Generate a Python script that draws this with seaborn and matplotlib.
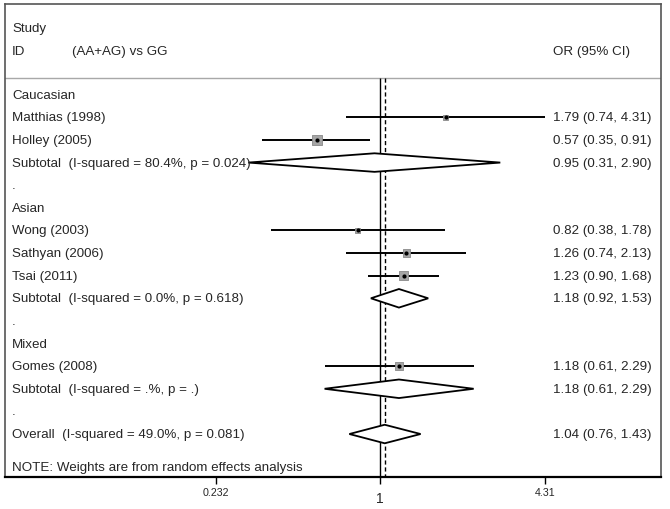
import numpy as np
import pandas as pd
import seaborn as sns
import matplotlib.pyplot as plt
from matplotlib.transforms import blended_transform_factory

# Data
groups = ["Caucasian", "Asian", "Mixed"]
studies = ["Matthias (1998)", "Holley (2005)", "Wong (2003)",
           "Sathyan (2006)", "Tsai (2011)", "Gomes (2008)"]
study_group = ["Caucasian", "Caucasian", "Asian", "Asian", "Asian", "Mixed"]
odds = [1.79, 0.57, 0.82, 1.26, 1.23, 1.18]
ci_low = [0.74, 0.35, 0.38, 0.74, 0.90, 0.61]
ci_high = [4.31, 0.91, 1.78, 2.13, 1.68, 2.29]
weights = [7.5, 26, 7.5, 16, 26, 17]   # box size reflects weight (estimated)

sub_labels = ["Subtotal  (I-squared = 80.4%, p = 0.024)",
              "Subtotal  (I-squared = 0.0%, p = 0.618)",
              "Subtotal  (I-squared = .%, p = .)"]
sub_or = [0.95, 1.18, 1.18]
sub_low = [0.31, 0.92, 0.61]
sub_high = [2.90, 1.53, 2.29]

overall_label = "Overall  (I-squared = 49.0%, p = 0.081)"
overall_or, overall_low, overall_high = 1.04, 0.76, 1.43

note = "NOTE: Weights are from random effects analysis"
xticks = [0.232, 4.31]
xtick_labels = ["0.232", "4.31"]

# ==================================================
# Row layout
# ==================================================
rows = []   # (row, left text, kind, index)
r = 0
for g_i, g in enumerate(groups):
    rows.append((r, g, "head", None)); r += 1
    for i, s in enumerate(studies):
        if study_group[i] == g:
            rows.append((r, s, "study", i)); r += 1
    rows.append((r, sub_labels[g_i], "sub", g_i)); r += 1
    rows.append((r, ".", "dot", None)); r += 1
rows.append((r, overall_label, "overall", None))
overall_row = r

study_rows = [row for row, _, k, _ in rows if k == "study"]
sub_rows = [row for row, _, k, _ in rows if k == "sub"]

df = pd.DataFrame({"study": studies, "OR": odds, "lo": ci_low, "hi": ci_high,
                   "w": weights, "row": study_rows})

# ==================================================
# Figure
# ==================================================
sns.set_style("white")
plt.rcParams["font.family"] = ["Liberation Sans", "DejaVu Sans"]
fs = 9.6

fig = plt.figure(figsize=(6.7, 5.1), dpi=100)
ax = fig.add_axes([5 / 670, 32 / 510, 656 / 670, 473 / 510])
ax.set_xscale("log")
ax.set_xlim(0.0358, 12.07)
ax.set_ylim(16.9, -4.01)

header_y = -0.74
ax.axhline(header_y, color="#a8a8a8", lw=1)
ax.vlines(1, header_y, 16.9, color="black", lw=1)
ax.vlines(overall_or, header_y, 16.9, color="black", lw=1, ls=(0, (3, 2)))

# CI lines
ax.hlines(df["row"], df["lo"], df["hi"], color="black", lw=1.4, zorder=3)

# weight boxes
sns.scatterplot(data=df, x="OR", y="row", size="w", sizes=(13, 45),
                marker="s", color="#a6a6a6", edgecolor="#8a8a8a",
                linewidth=0.6, legend=False, ax=ax, zorder=4)
# point estimates
sns.scatterplot(data=df, x="OR", y="row", marker="o", s=9, color="black",
                linewidth=0, legend=False, ax=ax, zorder=5)
ax.set_xlabel("")
ax.set_ylabel("")

# diamonds
def diamond(est, lo, hi, row, h=0.41):
    ax.fill([lo, est, hi, est], [row, row - h, row, row + h],
            facecolor="white", edgecolor="black", lw=1.3, zorder=3)

for i in range(len(sub_or)):
    diamond(sub_or[i], sub_low[i], sub_high[i], sub_rows[i])
diamond(overall_or, overall_low, overall_high, overall_row)

# text columns
trans = blended_transform_factory(ax.transAxes, ax.transData)
x_left = 7 / 656
x_right = 548 / 656
ax.text(x_left, -2.95, "Study", transform=trans, fontsize=fs, va="center")
ax.text(x_left, -1.95, "ID", transform=trans, fontsize=fs, va="center")
ax.text(67 / 656, -1.95, "(AA+AG) vs GG", transform=trans, fontsize=fs, va="center")
ax.text(x_right, -1.95, "OR (95% CI)", transform=trans, fontsize=fs, va="center")

for row, label, kind, idx in rows:
    ax.text(x_left, row, label, transform=trans, fontsize=fs, va="center")
    if kind == "study":
        txt = f"{odds[idx]:.2f} ({ci_low[idx]:.2f}, {ci_high[idx]:.2f})"
    elif kind == "sub":
        txt = f"{sub_or[idx]:.2f} ({sub_low[idx]:.2f}, {sub_high[idx]:.2f})"
    elif kind == "overall":
        txt = f"{overall_or:.2f} ({overall_low:.2f}, {overall_high:.2f})"
    else:
        continue
    ax.text(x_right, row, txt, transform=trans, fontsize=fs, va="center")

ax.text(x_left, 16.45, note, transform=trans, fontsize=fs, va="center")

# axis ticks
ax.set_xticks(xticks)
ax.set_xticklabels(xtick_labels)
ax.set_xticks([1], minor=True)
ax.set_xticklabels(["1"], minor=True)
ax.tick_params(axis="x", which="major", direction="out", length=5, width=1,
               labelsize=7.7, pad=2, bottom=True, color="black")
ax.tick_params(axis="x", which="minor", direction="out", length=5, width=1,
               labelsize=10, pad=5, bottom=True, color="black")
ax.set_yticks([])

for side in ["top", "left", "right"]:
    ax.spines[side].set_color("#555555")
    ax.spines[side].set_linewidth(1.2)
ax.spines["bottom"].set_color("black")
ax.spines["bottom"].set_linewidth(1.6)

fig.savefig("out.png", dpi=100)
